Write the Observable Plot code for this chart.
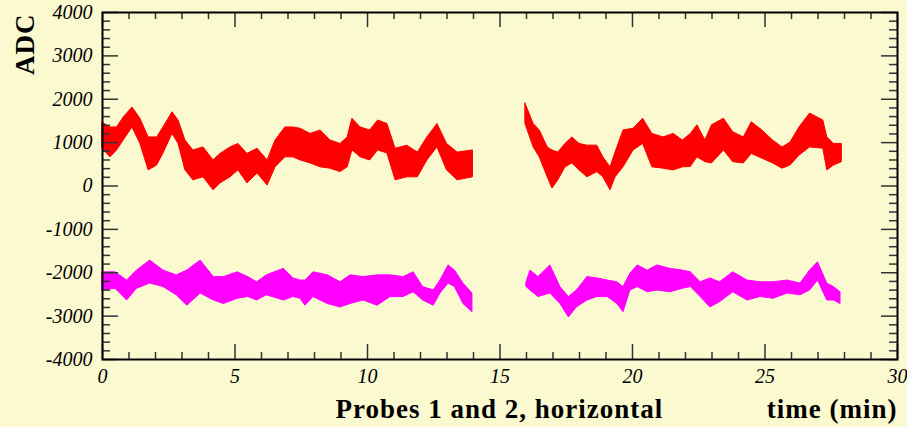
<!DOCTYPE html>
<html><head><meta charset="utf-8">
<script src="https://cdn.jsdelivr.net/npm/d3@7"></script>
<script src="https://cdn.jsdelivr.net/npm/@observablehq/plot@0.6"></script>
<style>
html,body{margin:0;padding:0;background:#fbf9d0;}
svg{display:block;}
</style></head><body><div id="chart"></div>
<script>
// Probe 1 (red), first segment: time (min), upper and lower envelope (ADC)
const red1T  = [0, 0.3, 0.55, 0.8, 1.13, 1.43, 1.74, 2.06, 2.3, 2.64, 2.87, 3.13, 3.43, 3.81, 4.19, 4.45, 4.83, 5.13, 5.47, 5.85, 6.23, 6.53, 6.9, 7.2, 7.47, 7.85, 8.23, 8.6, 8.98, 9.25, 9.43, 9.74, 10.1, 10.4, 10.75, 11.06, 11.5, 11.9, 12.26, 12.64, 13.0, 13.4, 13.98];
const red1Hi = [1460, 1350, 1350, 1580, 1810, 1550, 1120, 1120, 1350, 1700, 1510, 1050, 820, 890, 590, 740, 890, 970, 740, 860, 590, 1050, 1350, 1350, 1320, 1200, 1280, 1050, 970, 1120, 1550, 1350, 1280, 1510, 1430, 860, 930, 770, 1120, 1430, 970, 770, 820];
const red1Lo = [860, 660, 820, 1050, 1350, 970, 360, 470, 750, 1200, 970, 360, 130, 200, -100, 60, 200, 360, 60, 290, 10, 430, 660, 660, 590, 520, 430, 400, 320, 430, 820, 660, 590, 820, 750, 130, 200, 200, 590, 890, 360, 130, 200];
// Probe 1 (red), second segment
const red2T  = [15.96, 16.27, 16.5, 16.8, 16.98, 17.2, 17.47, 17.73, 18.0, 18.3, 18.67, 18.9, 19.17, 19.36, 19.66, 20.04, 20.4, 20.75, 21.17, 21.55, 21.9, 22.2, 22.45, 22.75, 23.0, 23.45, 23.8, 24.2, 24.5, 24.9, 25.3, 25.66, 25.96, 26.3, 26.7, 27.2, 27.35, 27.6, 27.9];
const red2Hi = [1900, 1430, 1280, 890, 820, 770, 970, 1120, 970, 930, 930, 660, 430, 770, 1280, 1320, 1550, 1200, 1120, 1200, 1050, 1200, 1400, 1050, 1400, 1550, 1240, 1120, 1470, 1280, 1050, 890, 1000, 1350, 1670, 1510, 1120, 970, 970];
const red2Lo = [1430, 890, 660, 200, -60, 130, 430, 520, 360, 200, 320, 200, -100, 200, 430, 820, 970, 430, 400, 360, 430, 440, 660, 550, 520, 820, 550, 520, 740, 630, 520, 400, 470, 700, 890, 860, 360, 470, 550];
// Probe 2 (magenta), first segment
const mag1T  = [0, 0.49, 0.93, 1.3, 1.8, 2.3, 2.8, 3.2, 3.7, 4.2, 4.58, 5.1, 5.5, 5.83, 6.2, 6.84, 7.2, 7.47, 7.66, 7.96, 8.5, 8.98, 9.36, 9.85, 10.38, 10.87, 11.36, 11.74, 12.1, 12.5, 12.75, 13.06, 13.3, 13.62, 13.96];
const mag1Hi = [-1990, -1990, -2180, -1950, -1720, -1950, -2060, -1950, -1720, -2100, -2100, -1990, -2100, -2220, -2060, -1910, -2130, -2180, -2180, -1990, -2060, -2220, -2060, -2100, -2060, -2060, -2100, -1990, -2330, -2410, -2180, -1830, -1950, -2250, -2480];
const mag1Lo = [-2410, -2370, -2640, -2370, -2250, -2330, -2520, -2760, -2480, -2640, -2720, -2600, -2560, -2640, -2520, -2640, -2560, -2600, -2760, -2560, -2720, -2800, -2720, -2640, -2760, -2560, -2560, -2450, -2640, -2760, -2480, -2250, -2330, -2720, -2910];
// Probe 2 (magenta), second segment
const mag2T  = [16.0, 16.15, 16.45, 16.9, 17.28, 17.6, 17.9, 18.3, 18.67, 19.06, 19.43, 19.66, 19.92, 20.2, 20.57, 20.94, 21.43, 21.9, 22.2, 22.57, 22.94, 23.3, 23.8, 24.34, 24.83, 25.32, 25.85, 26.34, 26.7, 27.0, 27.35, 27.6, 27.85];
const mag2Hi = [-2220, -1950, -2100, -1830, -2330, -2560, -2410, -2100, -2130, -2180, -2220, -2330, -2020, -1830, -1950, -1830, -1910, -1950, -1990, -2220, -2130, -2220, -1990, -2180, -2220, -2220, -2180, -2250, -1950, -1760, -2250, -2330, -2450];
const mag2Lo = [-2330, -2410, -2560, -2480, -2720, -3030, -2800, -2640, -2560, -2560, -2720, -2910, -2410, -2330, -2450, -2410, -2450, -2370, -2330, -2560, -2800, -2680, -2450, -2640, -2560, -2600, -2480, -2520, -2410, -2180, -2640, -2640, -2720];

const xMajor = [0, 5, 10, 15, 20, 25, 30];
const yMajor = [-4000, -3000, -2000, -1000, 0, 1000, 2000, 3000, 4000];
const xTitle = "Probes 1 and 2, horizontal";
const xUnit = "time (min)";
const yTitle = "ADC";

function band(t, hi, lo, seg) { return t.map((d, i) => ({t: d, hi: hi[i], lo: lo[i], seg})); }
const redRows = [...band(red1T, red1Hi, red1Lo, 1), ...band(red2T, red2Hi, red2Lo, 2)];
const magRows = [...band(mag1T, mag1Hi, mag1Lo, 1), ...band(mag2T, mag2Hi, mag2Lo, 2)];

const W = 907, H = 427, mL = 102, mR = 10, mT = 12, mB = 68;
const fw = W - mL - mR, fh = H - mT - mB;
const xMinor = d3.range(0, 31, 1).filter(d => d % 5 !== 0);
const yMinor = d3.range(-4000, 4001, 200).filter(d => d % 1000 !== 0);
const tickCol = "#333";
const serif = "Liberation Serif, Times New Roman, serif";

const chart = Plot.plot({
  width: W, height: H,
  marginLeft: mL, marginRight: mR, marginTop: mT, marginBottom: mB,
  style: {background: "#fbf9d0", color: "black"},
  x: {domain: [0, 30]},
  y: {domain: [-4000, 4000]},
  marks: [
    Plot.areaY(redRows, {x: "t", y1: "lo", y2: "hi", z: "seg", fill: "#ff0000", stroke: "#ff0000", strokeWidth: 1, curve: "linear"}),
    Plot.areaY(magRows, {x: "t", y1: "lo", y2: "hi", z: "seg", fill: "#ff00ff", stroke: "#ff00ff", strokeWidth: 1, curve: "linear"}),
    // bottom ticks
    Plot.tickX(xMajor, {x: d => d, insetTop: fh - 15, stroke: tickCol, strokeWidth: 1.5}),
    Plot.tickX(xMinor, {x: d => d, insetTop: fh - 7, stroke: tickCol, strokeWidth: 1.5}),
    // top ticks
    Plot.tickX(xMajor, {x: d => d, insetBottom: fh - 15, stroke: tickCol, strokeWidth: 1.5}),
    Plot.tickX(xMinor, {x: d => d, insetBottom: fh - 7, stroke: tickCol, strokeWidth: 1.5}),
    // left ticks
    Plot.tickY(yMajor, {y: d => d, insetRight: fw - 16, stroke: tickCol, strokeWidth: 1.5}),
    Plot.tickY(yMinor, {y: d => d, insetRight: fw - 8, stroke: tickCol, strokeWidth: 1.5}),
    // right ticks
    Plot.tickY(yMajor, {y: d => d, insetLeft: fw - 16, stroke: tickCol, strokeWidth: 1.5}),
    Plot.tickY(yMinor, {y: d => d, insetLeft: fw - 8, stroke: tickCol, strokeWidth: 1.5}),
    Plot.frame({stroke: "black", strokeWidth: 2}),
    Plot.axisX({ticks: xMajor, tickSize: 0, tickPadding: 9, tickFormat: d => String(d), fontSize: 20, fontFamily: serif, fontStyle: "italic", label: null}),
    Plot.axisY({ticks: yMajor, tickSize: 0, tickPadding: 10, tickFormat: d => String(d), fontSize: 20, fontFamily: serif, fontStyle: "italic", label: null}),
    Plot.text([yTitle], {text: d => d, frameAnchor: "top-left", dx: -69, dy: 1, rotate: -90, textAnchor: "end", lineAnchor: "bottom", fontSize: 27, fontWeight: "bold", fontFamily: serif}),
    Plot.text([xTitle], {text: d => d, frameAnchor: "bottom-left", dx: 233, dy: 58, textAnchor: "start", lineAnchor: "bottom", fontSize: 27, fontWeight: "bold", fontFamily: serif}),
    Plot.text([xUnit], {text: d => d, frameAnchor: "bottom-right", dx: 0, dy: 58, textAnchor: "end", lineAnchor: "bottom", fontSize: 27, fontWeight: "bold", fontFamily: serif})
  ]
});
d3.select(chart).selectAll("text").filter(function() {
  const s = this.textContent; return s === xTitle || s === xUnit || s === yTitle;
}).style("letter-spacing", "1px");
document.getElementById("chart").appendChild(chart);
</script></body></html>
